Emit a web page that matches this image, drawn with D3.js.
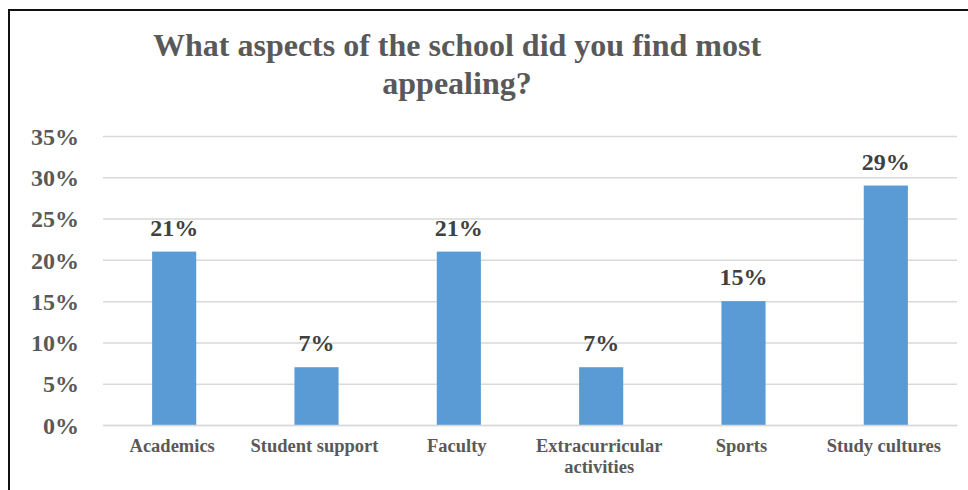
<!DOCTYPE html>
<html>
<head>
<meta charset="utf-8">
<script src="https://cdn.jsdelivr.net/npm/d3@7"></script>
<style>
  html, body { margin: 0; padding: 0; background: #fff; }
  svg { display: block; font-family: "Liberation Serif", "Times New Roman", serif; font-weight: bold; }
</style>
</head>
<body>
<svg id="chart" width="968" height="490"></svg>
<script>
// Survey responses: share of respondents per aspect
const categories = ["Academics", "Student support", "Faculty", "Extracurricular activities", "Sports", "Study cultures"];
const values = [0.21, 0.07, 0.21, 0.07, 0.15, 0.29];
const yTicks = [0, 0.05, 0.10, 0.15, 0.20, 0.25, 0.30, 0.35];
const titleLines = ["What aspects of the school did you find most", "appealing?"];

const svg = d3.select("#chart");
const W = 968, H = 490;
const margin = { left: 103, right: 11, top: 136, bottom: 65 };

// Outer frame
svg.append("path")
  .attr("d", `M9,${H} V10 H${W}`)
  .attr("fill", "none")
  .attr("stroke", "#111")
  .attr("stroke-width", 2);

const x = d3.scaleBand()
  .domain(categories)
  .range([margin.left, W - margin.right])
  .paddingInner(0.69)
  .paddingOuter(0.345);

const y = d3.scaleLinear()
  .domain([0, 0.35])
  .range([H - margin.bottom, margin.top]);

// Title
svg.append("g")
  .selectAll("text")
  .data(titleLines)
  .join("text")
  .attr("x", 457)
  .attr("y", (d, i) => 56 + i * 38)
  .attr("text-anchor", "middle")
  .attr("fill", "#595959")
  .attr("font-size", 32)
  .text(d => d);

// Gridlines
const grid = svg.append("g")
  .attr("transform", `translate(${margin.left},0)`)
  .call(d3.axisLeft(y).tickValues(yTicks).tickSize(-(W - margin.right - margin.left)).tickFormat(""));
grid.select(".domain").remove();
grid.selectAll(".tick line").attr("stroke", "#d9d9d9").attr("stroke-width", 1.5);

// Y axis labels
const yAxis = svg.append("g")
  .attr("transform", `translate(79,0)`)
  .call(d3.axisLeft(y).tickValues(yTicks).tickSize(0).tickPadding(0).tickFormat(d3.format(".0%")));
yAxis.select(".domain").remove();
yAxis.selectAll(".tick text")
  .attr("fill", "#595959")
  .attr("font-size", 24)
  .attr("font-family", "Liberation Serif, Times New Roman, serif")
  .attr("font-weight", "bold")
  .attr("dy", "0.34em");

// Bars
svg.append("g")
  .selectAll("rect")
  .data(categories)
  .join("rect")
  .attr("x", d => x(d))
  .attr("width", x.bandwidth())
  .attr("y", (d, i) => y(values[i]))
  .attr("height", (d, i) => y(0) - y(values[i]))
  .attr("fill", "#5B9BD5");

// Value labels
svg.append("g")
  .selectAll("text")
  .data(categories)
  .join("text")
  .attr("x", d => x(d) + x.bandwidth() / 2)
  .attr("y", (d, i) => y(values[i]) - 16)
  .attr("text-anchor", "middle")
  .attr("fill", "#404040")
  .attr("font-size", 24)
  .text((d, i) => d3.format(".0%")(values[i]));

// Category axis line
const xAxis = svg.append("g")
  .attr("transform", `translate(0,${y(0)})`)
  .call(d3.axisBottom(x).tickSize(0).tickFormat(""));
xAxis.select(".domain").attr("stroke", "#d9d9d9").attr("stroke-width", 1.5);

// Category labels (wrapped to fit the band)
const catLines = categories.map(c => c === "Extracurricular activities" ? ["Extracurricular", "activities"] : [c]);
svg.append("g")
  .selectAll("text")
  .data(categories)
  .join("text")
  .attr("x", d => x(d) + x.bandwidth() / 2 - 2)
  .attr("y", 452)
  .attr("text-anchor", "middle")
  .attr("fill", "#595959")
  .attr("font-size", 18.5)
  .each(function(d, i) {
    d3.select(this).selectAll("tspan")
      .data(catLines[i])
      .join("tspan")
      .attr("x", x(d) + x.bandwidth() / 2 - 2)
      .attr("dy", (t, j) => j === 0 ? 0 : 21)
      .text(t => t);
  });
</script>
</body>
</html>
